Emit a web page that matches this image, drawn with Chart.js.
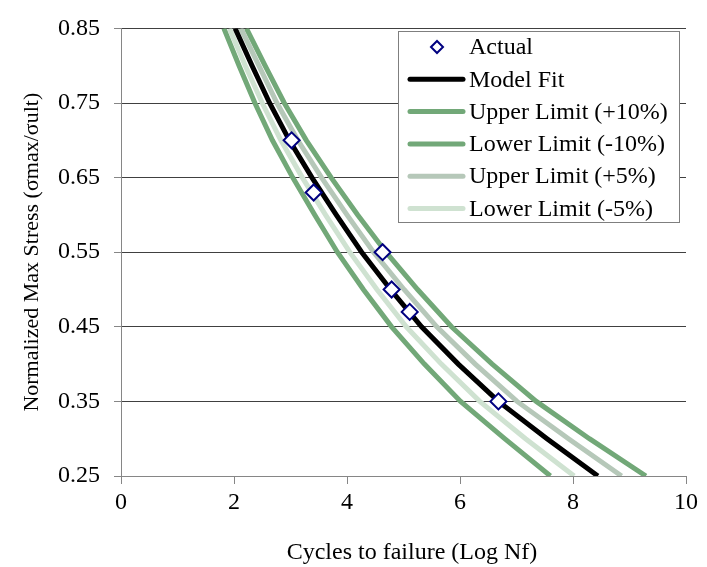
<!DOCTYPE html>
<html>
<head>
<meta charset="utf-8">
<script src="https://cdn.jsdelivr.net/npm/chart.js@4/dist/chart.umd.min.js"></script>
<style>
  html, body { margin: 0; padding: 0; background: #ffffff; }
  #wrap { width: 707px; height: 567px; }
</style>
</head>
<body>
<div id="wrap"><canvas id="c" width="707" height="567"></canvas></div>
<script>
// Normalized stress levels at which the fatigue model is evaluated
const stressLevels = [0.85, 0.80, 0.75, 0.70, 0.65, 0.60, 0.55, 0.50, 0.45, 0.40, 0.35, 0.30, 0.25];

// Cycles to failure (log Nf) for the model and its bands
const modelFit   = [2.02, 2.32, 2.63, 2.98, 3.38, 3.81, 4.26, 4.77, 5.32, 5.97, 6.68, 7.54, 8.44];
const upper10    = [2.22, 2.55, 2.89, 3.28, 3.72, 4.19, 4.69, 5.25, 5.85, 6.57, 7.35, 8.29, 9.29];
const lower10    = [1.82, 2.09, 2.37, 2.68, 3.04, 3.43, 3.83, 4.29, 4.79, 5.37, 6.01, 6.79, 7.60];
const upper5     = [2.12, 2.44, 2.76, 3.13, 3.55, 4.00, 4.47, 5.01, 5.59, 6.27, 7.01, 7.92, 8.86];
const lower5     = [1.92, 2.20, 2.50, 2.83, 3.21, 3.62, 4.05, 4.53, 5.05, 5.67, 6.35, 7.16, 8.02];

// Measured specimens
const actualCycles = [3.02, 3.41, 4.63, 4.79, 5.11, 6.68];
const actualStress = [0.70, 0.63, 0.55, 0.50, 0.47, 0.35];

// Axis ticks
const xTickValues = [0, 2, 4, 6, 8, 10];
const yTickValues = [0.25, 0.35, 0.45, 0.55, 0.65, 0.75, 0.85];

const xTitle = 'Cycles to failure (Log Nf)';
const yTitle = 'Normalized Max Stress (σmax/σult)';

const FONT = '"Liberation Serif", "Times New Roman", Times, serif';

function pairs(xs, ys) { return xs.map((x, i) => ({ x: x, y: ys[i] })); }

const GREEN_DARK = '#72a878';
const GREEN_MID = '#b6c8b9';
const GREEN_LIGHT = '#cfe2d1';
const LINE_W = 5;

const datasets = [
  { label: 'Actual', data: pairs(actualCycles, actualStress), showLine: false,
    pointStyle: 'rectRot', pointRadius: 8, pointHoverRadius: 8,
    pointBorderColor: '#000080', pointBackgroundColor: '#ffffff', pointBorderWidth: 2,
    borderColor: '#000080', backgroundColor: '#ffffff' },
  { label: 'Model Fit', data: pairs(modelFit, stressLevels), showLine: true,
    borderColor: '#000000', borderWidth: LINE_W, pointRadius: 0, clip: 0 },
  { label: 'Upper Limit (+10%)', data: pairs(upper10, stressLevels), showLine: true,
    borderColor: GREEN_DARK, borderWidth: LINE_W, pointRadius: 0, clip: 0 },
  { label: 'Lower Limit (-10%)', data: pairs(lower10, stressLevels), showLine: true,
    borderColor: GREEN_DARK, borderWidth: LINE_W, pointRadius: 0, clip: 0 },
  { label: 'Upper Limit (+5%)', data: pairs(upper5, stressLevels), showLine: true,
    borderColor: GREEN_MID, borderWidth: LINE_W, pointRadius: 0, clip: 0 },
  { label: 'Lower Limit (-5%)', data: pairs(lower5, stressLevels), showLine: true,
    borderColor: GREEN_LIGHT, borderWidth: LINE_W, pointRadius: 0, clip: 0 }
];

// Boxed legend inside the plot (top right) and the x-axis title
const boxedLegend = {
  id: 'boxedLegend',
  afterDraw(chart) {
    const ctx = chart.ctx;
    const left = 398, top = 31, right = 679, bottom = 222;
    const rowTop = 47, rowStep = 32.3;
    const sampleL = 410, sampleR = 463, textX = 469;
    ctx.save();
    ctx.fillStyle = '#ffffff';
    ctx.fillRect(left, top, right - left, bottom - top);
    ctx.strokeStyle = '#7f7f7f';
    ctx.lineWidth = 1;
    ctx.strokeRect(left + 0.5, top + 0.5, right - left, bottom - top);
    ctx.font = '24px ' + FONT;
    ctx.textBaseline = 'middle';
    ctx.textAlign = 'left';
    chart.data.datasets.forEach((ds, i) => {
      const y = rowTop + i * rowStep;
      if (ds.showLine) {
        ctx.strokeStyle = ds.borderColor;
        ctx.lineWidth = ds.borderWidth;
        ctx.lineCap = 'round';
        ctx.beginPath();
        ctx.moveTo(sampleL, y);
        ctx.lineTo(sampleR, y);
        ctx.stroke();
      } else {
        const cx = 437, r = 6;
        ctx.fillStyle = ds.pointBackgroundColor;
        ctx.strokeStyle = ds.pointBorderColor;
        ctx.lineWidth = 2;
        ctx.beginPath();
        ctx.moveTo(cx - r, y); ctx.lineTo(cx, y - r); ctx.lineTo(cx + r, y); ctx.lineTo(cx, y + r);
        ctx.closePath();
        ctx.fill();
        ctx.stroke();
      }
      ctx.fillStyle = '#000000';
      ctx.fillText(ds.label, textX, y + 1);
    });
    // x-axis title
    ctx.font = '24px ' + FONT;
    ctx.textAlign = 'center';
    ctx.fillText(xTitle, 412, 553);
    ctx.restore();
  }
};

new Chart(document.getElementById('c'), {
  type: 'scatter',
  data: { datasets: datasets },
  options: {
    responsive: false,
    animation: false,
    events: [],
    layout: { padding: { top: 20, right: 21, left: 0, bottom: 0 } },
    plugins: { legend: { display: false }, tooltip: { enabled: false } },
    scales: {
      x: {
        type: 'linear', min: 0, max: 10,
        afterBuildTicks(scale) { scale.ticks = xTickValues.map(v => ({ value: v })); },
        afterFit(scale) { scale.height = 91; },
        ticks: { color: '#000000', font: { family: FONT, size: 24 }, padding: 4,
                 maxRotation: 0, autoSkip: false, callback: v => String(v) },
        grid: { drawOnChartArea: false, drawTicks: true, tickLength: 8, tickColor: '#868686' },
        border: { color: '#868686', width: 1 },
        title: { display: false }
      },
      y: {
        type: 'linear', min: 0.25, max: 0.85,
        afterBuildTicks(scale) { scale.ticks = yTickValues.map(v => ({ value: v })); },
        afterFit(scale) { scale.width = 121; },
        ticks: { color: '#000000', font: { family: FONT, size: 24 }, padding: 14,
                 autoSkip: false, callback: v => Number(v).toFixed(2) },
        grid: { color: '#404040', lineWidth: 1, drawTicks: true, tickLength: 7, tickColor: '#868686' },
        border: { color: '#868686', width: 1 },
        title: { display: true, text: yTitle, color: '#000000',
                 font: { family: FONT, size: 22 }, padding: { top: 19, bottom: 0 } }
      }
    }
  },
  plugins: [boxedLegend]
});
</script>
</body>
</html>
